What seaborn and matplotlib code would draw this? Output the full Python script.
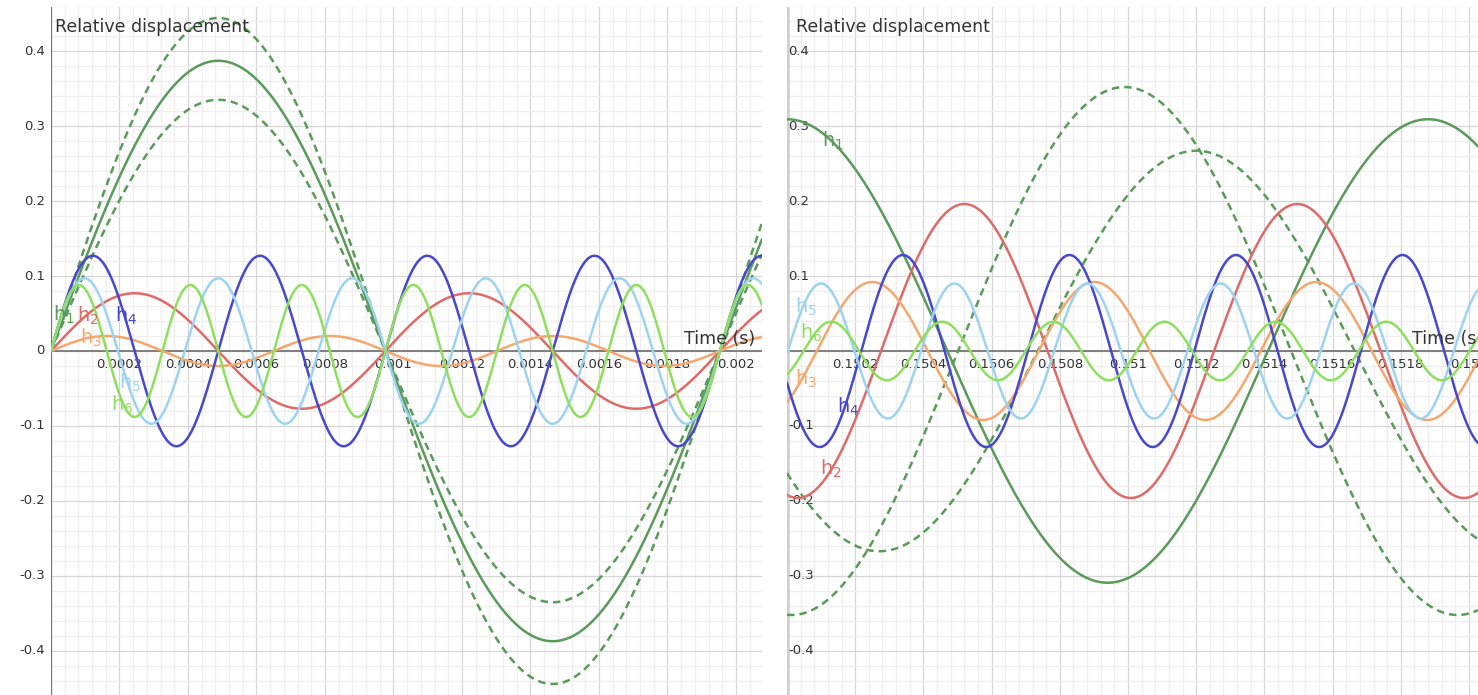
import numpy as np
import matplotlib
matplotlib.use("Agg")
import matplotlib.pyplot as plt
import seaborn as sns

# harmonic names / colours
labels = ["h$_1$", "h$_2$", "h$_3$", "h$_4$", "h$_5$", "h$_6$"]
colors = ["#5a9a5a", "#de6b68", "#f4a76e", "#4848cc", "#9dd3f1", "#8fdf5e"]
f0 = 512

# left panel (t from 0): all harmonics start at zero
left_amp = [0.387, 0.077, 0.020, 0.127, 0.097, 0.088]
left_dashed_amp = [0.444, 0.335]
left_label_t = [0.000006, 0.000076, 0.000085, 0.000187, 0.000199, 0.000175]
left_label_y = [0.048, 0.047, 0.017, 0.047, -0.043, -0.072]
left_xticks = [0.0002, 0.0004, 0.0006, 0.0008, 0.001, 0.0012, 0.0014, 0.0016, 0.0018, 0.002]
left_xticklabels = ["0.0002", "0.0004", "0.0006", "0.0008", "0.001",
                    "0.0012", "0.0014", "0.0016", "0.0018", "0.002"]

# right panel (around t = 0.15 s): amplitude, time of a peak, frequency
right_amp = [0.309, 0.196, 0.092, 0.128, 0.090, 0.039]
right_peak = [0.15188, 0.15052, 0.15025, 0.15034, 0.15010, 0.15013]
right_freq = [532, 1024, 1536, 2048, 2560, 3072]
right_dashed_amp = [0.352, 0.267]
right_dashed_peak = [0.15099, 0.15120]
right_dashed_freq = [512, 538]
right_label_t = [0.150103, 0.150097, 0.150023, 0.150147, 0.150023, 0.150038]
right_label_y = [0.28, -0.157, -0.037, -0.075, 0.059, 0.024]
right_xticks = [0.1502, 0.1504, 0.1506, 0.1508, 0.151, 0.1512, 0.1514, 0.1516, 0.1518, 0.152]
right_xticklabels = ["0.1502", "0.1504", "0.1506", "0.1508", "0.151",
                     "0.1512", "0.1514", "0.1516", "0.1518", "0.152"]

yticks = [0.4, 0.3, 0.2, 0.1, 0, -0.1, -0.2, -0.3, -0.4]
yticklabels = ["0.4", "0.3", "0.2", "0.1", "0", "-0.1", "-0.2", "-0.3", "-0.4"]

sns.set_style("white")
plt.rcParams["font.family"] = ["DejaVu Sans"]

W, H = 1478, 695
fig = plt.figure(figsize=(W / 100, H / 100), dpi=100)
YLIM = (-0.4587, 0.4587)
txt = "#333333"


def setup_grid(ax, x0, x1, xmaj):
    ax.set_xlim(x0, x1)
    ax.set_ylim(*YLIM)
    for s in ax.spines.values():
        s.set_visible(False)
    ax.set_xticks([])
    ax.set_yticks([])
    xm = np.arange(np.ceil(x0 / (xmaj / 5)) * (xmaj / 5), x1, xmaj / 5)
    for v in xm:
        major = abs(round(v / xmaj) * xmaj - v) < xmaj / 50
        ax.axvline(v, color="#d6d6d6" if major else "#efefef", lw=0.9, zorder=0)
    for v in np.arange(-0.46, 0.47, 0.02):
        major = abs(round(v / 0.1) * 0.1 - v) < 0.002
        ax.axhline(v, color="#d6d6d6" if major else "#efefef", lw=0.9, zorder=0)
    ax.axhline(0, color="#777777", lw=1.3, zorder=1)


# ---------------- left panel ----------------
axL = fig.add_axes([51 / W, 0, (762 - 51) / W, (695 - 7) / H])
setup_grid(axL, 0, 0.002076, 0.0002)
axL.axvline(0, color="#777777", lw=1.6, zorder=1)
tL = np.linspace(0, 0.002076, 2500)
for a in left_dashed_amp:
    sns.lineplot(x=tL, y=a * np.sin(2 * np.pi * f0 * tL), ax=axL,
                 color=colors[0], lw=1.8, linestyle=(0, (3, 2)), zorder=3)
for n, (a, c) in enumerate(zip(left_amp, colors), start=1):
    sns.lineplot(x=tL, y=a * np.sin(2 * np.pi * n * f0 * tL), ax=axL,
                 color=c, lw=1.8, zorder=3)
for lab, c, x, y in zip(labels, colors, left_label_t, left_label_y):
    axL.text(x, y, lab, color=c, fontsize=14, va="center", ha="left", zorder=4)
for v, s in zip(left_xticks, left_xticklabels):
    axL.text(v, -0.018, s, ha="center", va="center", fontsize=9.5, color=txt, zorder=2)
for v, s in zip(yticks, yticklabels):
    axL.text(-0.000018, v, s, ha="right", va="center", fontsize=9.5, color=txt,
             clip_on=False)
axL.text(0.000012, 0.432, "Relative displacement", fontsize=12.5, color=txt,
         va="center", ha="left", zorder=4)
axL.text(0.002055, 0.016, "Time (s)", fontsize=12.5, color=txt,
         va="center", ha="right", zorder=4)

# ---------------- right panel ----------------
x0R = 0.15
x1R = 0.15 + (W - 787) / 341000
axR = fig.add_axes([787 / W, 0, (W - 787) / W, (695 - 7) / H])
setup_grid(axR, x0R, x1R, 0.0002)
axR.axvline(x0R, color="#cfcfcf", lw=4, zorder=1)
tR = np.linspace(x0R, x1R, 2500)
for a, p, f in zip(right_dashed_amp, right_dashed_peak, right_dashed_freq):
    sns.lineplot(x=tR, y=a * np.cos(2 * np.pi * f * (tR - p)), ax=axR,
                 color=colors[0], lw=1.8, linestyle=(0, (3, 2)), zorder=3)
for a, p, f, c in zip(right_amp, right_peak, right_freq, colors):
    sns.lineplot(x=tR, y=a * np.cos(2 * np.pi * f * (tR - p)), ax=axR,
                 color=c, lw=1.8, zorder=3)
for lab, c, x, y in zip(labels, colors, right_label_t, right_label_y):
    axR.text(x, y, lab, color=c, fontsize=14, va="center", ha="left", zorder=4)
for v, s in zip(right_xticks, right_xticklabels):
    axR.text(v, -0.018, s, ha="center", va="center", fontsize=9.5, color=txt,
             zorder=2, clip_on=False)
for v, s in zip(yticks, yticklabels):
    if v == 0:
        continue
    axR.text(x0R + 0.0000045, v, s, ha="left", va="center", fontsize=9.5, color=txt,
             zorder=2)
axR.text(x0R + 0.000025, 0.432, "Relative displacement", fontsize=12.5, color=txt,
         va="center", ha="left", zorder=4)
axR.text(x0R + (1412 - 787) / 341000, 0.016, "Time (s)", fontsize=12.5, color=txt,
         va="center", ha="left", zorder=4, clip_on=False)

fig.savefig("out.png", dpi=100)
